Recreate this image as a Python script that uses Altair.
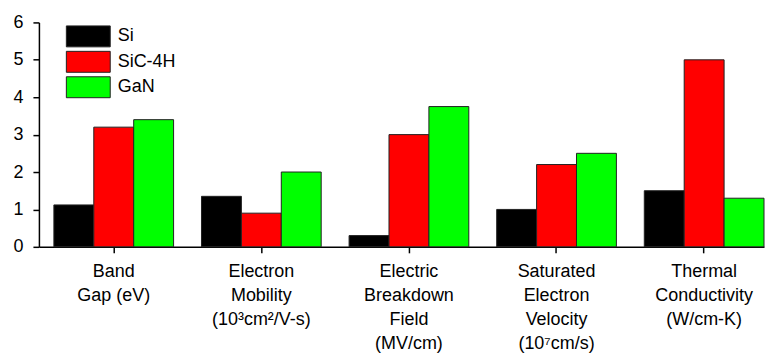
import altair as alt
import pandas as pd

categories = [
    "Band|Gap (eV)",
    "Electron|Mobility|(10³cm²/V-s)",
    "Electric|Breakdown|Field|(MV/cm)",
    "Saturated|Electron|Velocity|(10⁷cm/s)",
    "Thermal|Conductivity|(W/cm-K)",
]
series = ["Si", "SiC-4H", "GaN"]
si_values = [1.12, 1.35, 0.3, 1.0, 1.5]
sic_values = [3.2, 0.9, 3.0, 2.2, 5.0]
gan_values = [3.4, 2.0, 3.75, 2.5, 1.3]
colors = ["#000000", "#ff0000", "#00ff00"]
y_ticks = [0, 1, 2, 3, 4, 5, 6]

rows = []
for name, vals in zip(series, [si_values, sic_values, gan_values]):
    for cat, v in zip(categories, vals):
        rows.append({"category": cat, "series": name, "value": v})
df = pd.DataFrame(rows)

FONT = "Liberation Sans"
FS = 18

chart = alt.Chart(df).mark_bar(stroke="#222222", strokeWidth=1).encode(
    x=alt.X(
        "category:N",
        sort=categories,
        scale=alt.Scale(paddingInner=0.189, paddingOuter=0.0507, align=1),
        axis=alt.Axis(
            title=None,
            labelAngle=0,
            labelExpr="split(datum.label, '|')",
            labelFont=FONT,
            labelFontSize=FS,
            labelColor="#000000",
            labelLineHeight=24,
            labelPadding=10,
            tickSize=6,
            tickColor="#000000",
            tickWidth=1.5,
            domainColor="#000000",
            domainWidth=1.5,
            labelLimit=0,
        ),
    ),
    xOffset=alt.XOffset(
        "series:N", sort=series, scale=alt.Scale(paddingInner=0, paddingOuter=0)
    ),
    y=alt.Y(
        "value:Q",
        scale=alt.Scale(domain=[0, 6], nice=False),
        axis=alt.Axis(
            title=None,
            values=y_ticks,
            grid=False,
            labelFont=FONT,
            labelFontSize=FS,
            labelColor="#000000",
            labelPadding=10,
            tickSize=6,
            tickColor="#000000",
            tickWidth=1.5,
            domainColor="#000000",
            domainWidth=1.5,
        ),
    ),
    color=alt.Color(
        "series:N",
        sort=series,
        scale=alt.Scale(domain=series, range=colors),
        legend=alt.Legend(
            title=None,
            orient="none",
            legendX=38.5,
            legendY=3,
            padding=0,
            symbolType="M-2.095,-1L2.095,-1L2.095,1L-2.095,1Z",
            symbolSize=441,
            symbolStrokeColor="#222222",
            symbolStrokeWidth=1,
            symbolOpacity=1,
            labelFont=FONT,
            labelFontSize=FS,
            labelColor="#000000",
            labelOffset=18.5,
            rowPadding=-0.5,
        ),
    ),
).properties(
    width=727,
    height=225,
    padding={"left": 4, "top": 5, "right": 0, "bottom": 0},
).configure_view(stroke=None)

chart.save("out.html", embed_options={"renderer": "svg", "actions": False})
